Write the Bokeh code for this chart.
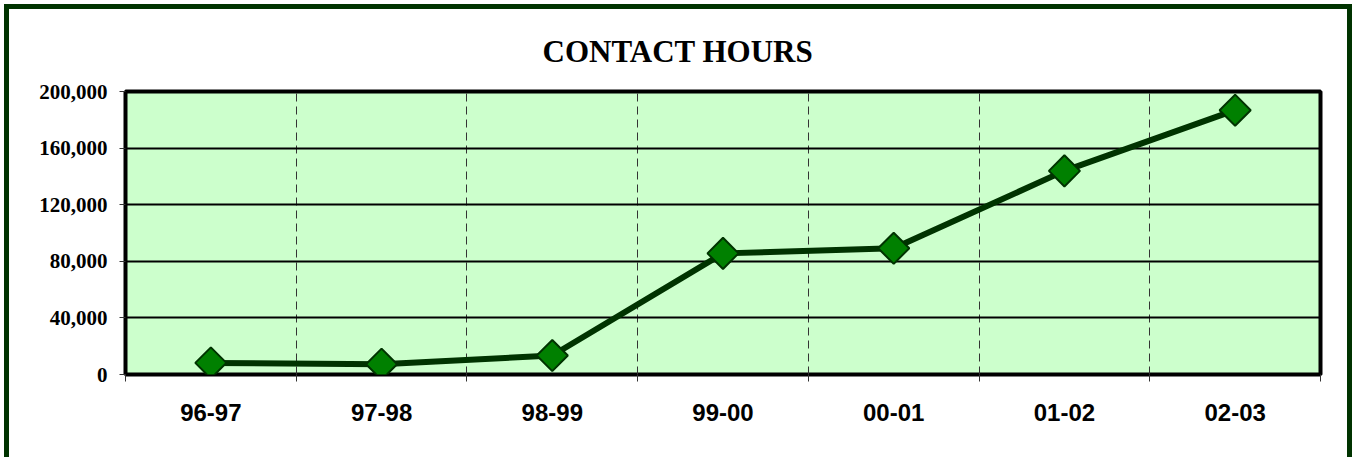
import math
from bokeh.plotting import figure
from bokeh.models import FixedTicker, NumeralTickFormatter, Range1d
from bokeh.embed import file_html
from bokeh.resources import INLINE

categories = ["96-97", "97-98", "98-99", "99-00", "00-01", "01-02", "02-03"]
contact_hours = [8200, 7300, 13400, 85600, 89200, 143900, 186800]
y_ticks = [0, 40000, 80000, 120000, 160000, 200000]

n = len(categories)
centers = [i + 0.5 for i in range(n)]
bounds = list(range(n + 1))

p = figure(width=1338, height=448, output_backend="svg", toolbar_location=None,
           x_range=Range1d(0, n), y_range=Range1d(0, y_ticks[-1]),
           min_border_left=116, min_border_right=37, min_border_top=81, min_border_bottom=88)
p.styles = {"box-sizing": "content-box", "margin-left": "4px", "margin-top": "4px",
            "border-top": "5px solid #003300", "border-left": "5px solid #003300",
            "border-right": "5px solid #003300"}

p.title.text = "CONTACT HOURS"
p.title.align = "left"
p.title.offset = 417
p.title.text_font = "Liberation Serif"
p.title.text_font_style = "bold"
p.title.text_font_size = "31px"
p.title.text_color = "black"
p.title.standoff = 45

p.background_fill_color = "#CCFFCC"
p.border_fill_color = "white"
p.outline_line_color = "black"
p.outline_line_width = 4

# grids
p.xgrid.ticker = FixedTicker(ticks=centers, minor_ticks=bounds)
p.xgrid.grid_line_color = None
p.xgrid.minor_grid_line_color = "#333333"
p.xgrid.minor_grid_line_dash = "8 5"
p.xgrid.minor_grid_line_width = 1
p.ygrid.ticker = FixedTicker(ticks=y_ticks)
p.ygrid.grid_line_color = "black"
p.ygrid.grid_line_width = 2

# x axis
p.xaxis.ticker = FixedTicker(ticks=centers, minor_ticks=bounds)
p.xaxis.major_label_overrides = {c: lab for c, lab in zip(centers, categories)}
p.xaxis.major_tick_line_color = None
p.xaxis.major_tick_out = 0
p.xaxis.minor_tick_line_color = "#333333"
p.xaxis.minor_tick_out = 7
p.xaxis.minor_tick_in = 0
p.xaxis.axis_line_color = None
p.xaxis.major_label_text_font = "Liberation Sans"
p.xaxis.major_label_text_font_style = "bold"
p.xaxis.major_label_text_font_size = "24px"
p.xaxis.major_label_text_color = "black"
p.xaxis.major_label_standoff = 22

# y axis
p.yaxis.ticker = FixedTicker(ticks=y_ticks)
p.yaxis.formatter = NumeralTickFormatter(format="0,0")
p.yaxis.major_tick_line_color = "#333333"
p.yaxis.major_tick_out = 6
p.yaxis.major_tick_in = 0
p.yaxis.minor_tick_line_color = None
p.yaxis.axis_line_color = None
p.yaxis.major_label_text_font = "Liberation Serif"
p.yaxis.major_label_text_font_style = "bold"
p.yaxis.major_label_text_font_size = "21px"
p.yaxis.major_label_text_color = "black"
p.yaxis.major_label_standoff = 12

p.line(centers, contact_hours, line_width=6, line_color="#003300", line_join="round")
p.scatter(centers, contact_hours, marker="square", size=22, angle=math.pi / 4,
          fill_color="#008000", line_color="#003300", line_width=2)

open("out.html", "w").write(file_html(p, INLINE))
